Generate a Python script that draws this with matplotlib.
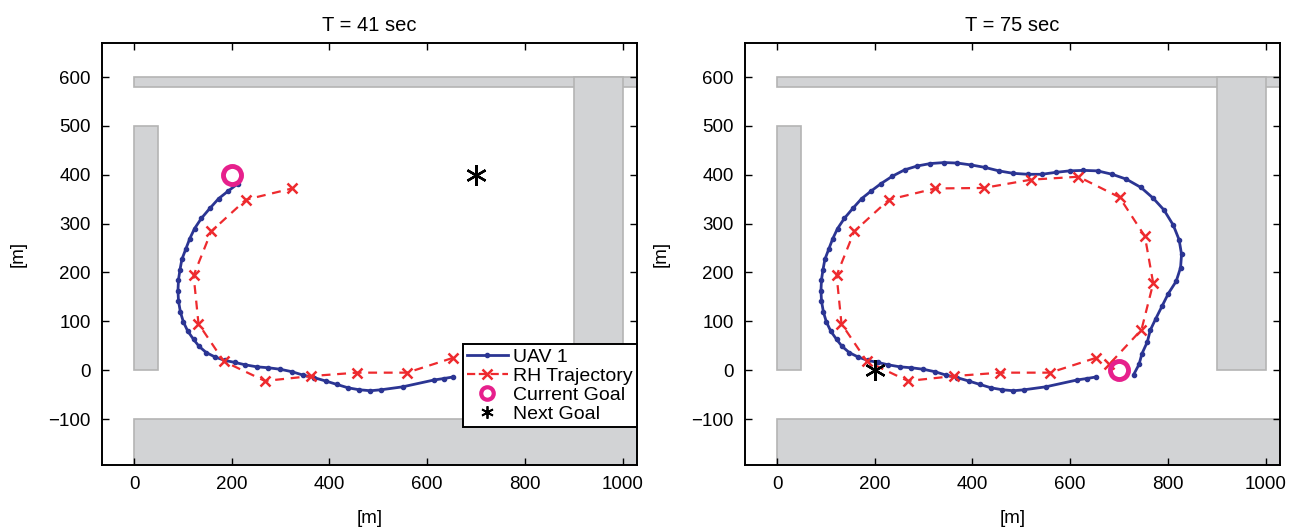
import numpy as np
import matplotlib.pyplot as plt
from matplotlib.patches import Rectangle
from matplotlib.lines import Line2D

plt.rcParams['font.family'] = ['Liberation Sans', 'DejaVu Sans']
plt.rcParams['font.size'] = 13.5

# UAV 1 path up to T = 41 sec
uav_x_41 = [652, 634, 614, 550, 506, 484, 461, 438, 415, 392, 368, 346, 323, 299,
            275, 251, 228, 206, 186, 166, 148, 133, 122, 110, 101, 95, 91, 90,
            91, 94, 98, 106, 114, 124, 138, 155, 173, 193, 213]
uav_y_41 = [-14, -17, -20, -34, -40, -42, -40, -36, -29, -22, -15, -10, -3, 2,
            5, 7, 11, 16, 20, 27, 36, 49, 63, 80, 99, 119, 142, 163,
            185, 205, 227, 248, 269, 290, 311, 331, 351, 367, 382]
# extra path flown between T = 41 and T = 75 sec
uav_x_more = [236, 261, 287, 314, 342, 369, 398, 426, 454, 483, 513, 542, 571, 599,
              627, 656, 686, 715, 745, 770, 792, 811, 823, 828, 826, 817, 801, 788,
              775, 764, 758, 747, 741, 730]
uav_y_more = [397, 410, 418, 423, 425, 424, 420, 415, 408, 403, 401, 401, 405, 408,
              409, 408, 401, 391, 374, 352, 328, 297, 267, 237, 210, 182, 157, 131,
              105, 82, 58, 34, 12, -9]

# receding horizon trajectory points
rh_x_41 = [652, 559, 457, 362, 268, 184, 132, 122, 158, 229, 324]
rh_y_41 = [25, -5, -5, -12, -22, 18, 95, 194, 284, 349, 372]
rh_x_more = [423, 520, 617, 701, 753, 770, 746, 680]
rh_y_more = [373, 390, 396, 354, 274, 178, 83, 12]

titles = ["T = 41 sec", "T = 75 sec"]
current_goal = [(200, 400), (700, 0)]
next_goal = [(700, 400), (200, 0)]

# walls: (x, y, width, height)
walls = [(0, -300, 1100, 200), (0, 580, 1100, 20), (0, 0, 50, 500), (900, 0, 100, 600)]

blue = '#2b3593'
red = '#ee2a2e'
pink = '#e6208c'

fig = plt.figure(figsize=(13.13, 5.29), dpi=100)
ax1 = fig.add_axes([102/1313, 64/529, 535/1313, 422/529])
ax2 = fig.add_axes([745/1313, 64/529, 535/1313, 422/529])

uav_x = [uav_x_41, uav_x_41 + uav_x_more]
uav_y = [uav_y_41, uav_y_41 + uav_y_more]
rh_x = [rh_x_41, rh_x_41 + rh_x_more]
rh_y = [rh_y_41, rh_y_41 + rh_y_more]

for i, ax in enumerate([ax1, ax2]):
    for w in walls:
        ax.add_patch(Rectangle((w[0], w[1]), w[2], w[3], facecolor='#d2d3d5',
                               edgecolor='#b4b4b4', lw=1.2, zorder=1))
    ax.plot(uav_x[i], uav_y[i], '-', color=blue, lw=2, marker='.', ms=6, zorder=3)
    ax.plot(rh_x[i], rh_y[i], '--', color=red, lw=1.6, marker='x', ms=7, mew=1.8,
            dashes=(4, 3), zorder=4)
    ax.plot(*current_goal[i], 'o', mfc='none', mec=pink, ms=13, mew=3.5, zorder=5)
    ax.plot(*next_goal[i], marker=(6, 2, 0), color='black', ms=15, mew=1.7,
            ls='none', zorder=5)

    ax.set_xlim(-65.5, 1029.5)
    ax.set_ylim(-194, 669.7)
    ax.set_xticks(np.arange(0, 1001, 200))
    ax.set_yticks(np.arange(-100, 601, 100))
    ax.tick_params(direction='in', top=True, right=True, length=5, width=1, pad=8,
                   labelsize=13.5)
    for s in ax.spines.values():
        s.set_linewidth(1.4)
    ax.set_title(titles[i], fontsize=14.5, pad=8.5)
    ax.set_xlabel("[m]", fontsize=13.5, labelpad=12)
    ax.set_ylabel("[m]", fontsize=13.5, labelpad=16)

handles = [
    Line2D([], [], color=blue, lw=2, marker='.', ms=6),
    Line2D([], [], color=red, lw=1.6, ls='--', marker='x', ms=7, mew=1.8),
    Line2D([], [], ls='none', marker='o', mfc='none', mec=pink, ms=9, mew=3),
    Line2D([], [], ls='none', marker=(6, 2, 0), color='black', ms=9, mew=1.3),
]
leg = ax1.legend(handles, ["UAV 1", "RH Trajectory", "Current Goal", "Next Goal"],
                 loc='lower right', bbox_to_anchor=(1.0, 0.09), borderaxespad=0,
                 fancybox=False, framealpha=1, edgecolor='black', numpoints=1,
                 labelspacing=0.08, handlelength=2.1, handletextpad=0.3,
                 borderpad=0.2, fontsize=14)
leg.get_frame().set_linewidth(1.4)
leg.set_zorder(10)

fig.savefig("out.png", dpi=100)
